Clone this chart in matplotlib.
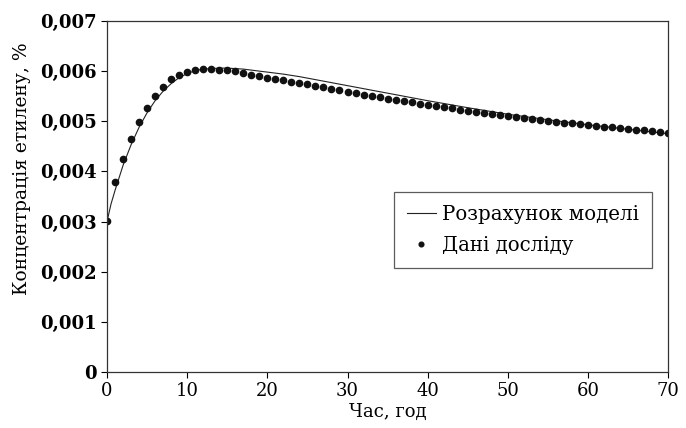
import matplotlib.pyplot as plt
from matplotlib.ticker import FuncFormatter

# experimental data (hours, concentration in 0.001 %)
hours = list(range(0, 71))
measured = [3.02, 3.78, 4.24, 4.64, 4.98, 5.27, 5.50, 5.69, 5.84, 5.93,
            5.98, 6.02, 6.04, 6.04, 6.03, 6.02, 6.00, 5.97, 5.93, 5.90,
            5.87, 5.84, 5.82, 5.79, 5.76, 5.74, 5.71, 5.68, 5.65, 5.62,
            5.59, 5.56, 5.53, 5.51, 5.48, 5.45, 5.43, 5.40, 5.38, 5.35,
            5.33, 5.30, 5.28, 5.26, 5.23, 5.21, 5.19, 5.17, 5.14, 5.12,
            5.10, 5.08, 5.06, 5.04, 5.03, 5.01, 4.99, 4.97, 4.96, 4.94,
            4.92, 4.91, 4.89, 4.88, 4.86, 4.85, 4.83, 4.82, 4.80, 4.78,
            4.76]

# model curve
model_hours = [0, 0.5, 1, 2, 3, 4, 5, 6, 7, 8, 9, 10, 11, 12, 13, 14, 15, 16,
               17, 18, 19, 20, 22, 24, 26, 28, 30, 35, 40, 45, 50, 55, 60,
               65, 70]
model = [3.00, 3.35, 3.62, 4.12, 4.53, 4.88, 5.17, 5.41, 5.60, 5.75, 5.87,
         5.95, 6.01, 6.04, 6.05, 6.06, 6.06, 6.05, 6.04, 6.02, 6.00, 5.98,
         5.94, 5.89, 5.83, 5.77, 5.71, 5.56, 5.41, 5.27, 5.14, 5.03, 4.93,
         4.84, 4.75]

plt.rcParams['font.family'] = ['DejaVu Serif']

fig = plt.figure(figsize=(6.86, 4.28), dpi=100)
ax = fig.add_axes([0.156, 0.131, 0.818, 0.82])

ax.plot(model_hours, [v / 1000 for v in model], color='#222222', lw=0.8,
        label='Розрахунок моделі')
ax.plot(hours, [v / 1000 for v in measured], 'o', color='#111111', ms=4.5,
        label='Дані досліду')

ax.set_xlim(0, 70)
ax.set_ylim(0, 0.007)
ax.set_xticks(range(0, 71, 10))
ax.set_yticks([i / 1000 for i in range(8)])


def fmt(v, pos):
    if abs(v) < 1e-12:
        return '0'
    return ('%.3f' % v).replace('.', ',')


ax.yaxis.set_major_formatter(FuncFormatter(fmt))
ax.tick_params(direction='out', length=4, width=0.8, labelsize=13)
for lab in ax.get_yticklabels():
    lab.set_fontweight('bold')
for s in ax.spines.values():
    s.set_linewidth(0.9)
    s.set_color('#333333')

ax.set_xlabel('Час, год', fontsize=13, labelpad=2)
ax.set_ylabel('Концентрація етилену, %', fontsize=13.5)
ax.yaxis.set_label_coords(-0.135, 0.58)

leg = ax.legend(loc='lower left', bbox_to_anchor=(0.511, 0.297),
                fontsize=14.2, frameon=True, fancybox=False,
                edgecolor='#333333', handlelength=1.5, handletextpad=0.3,
                borderpad=0.65, labelspacing=0.6, borderaxespad=0,
                markerscale=0.75)
leg.get_frame().set_linewidth(0.9)

fig.savefig('out.png', dpi=100)
